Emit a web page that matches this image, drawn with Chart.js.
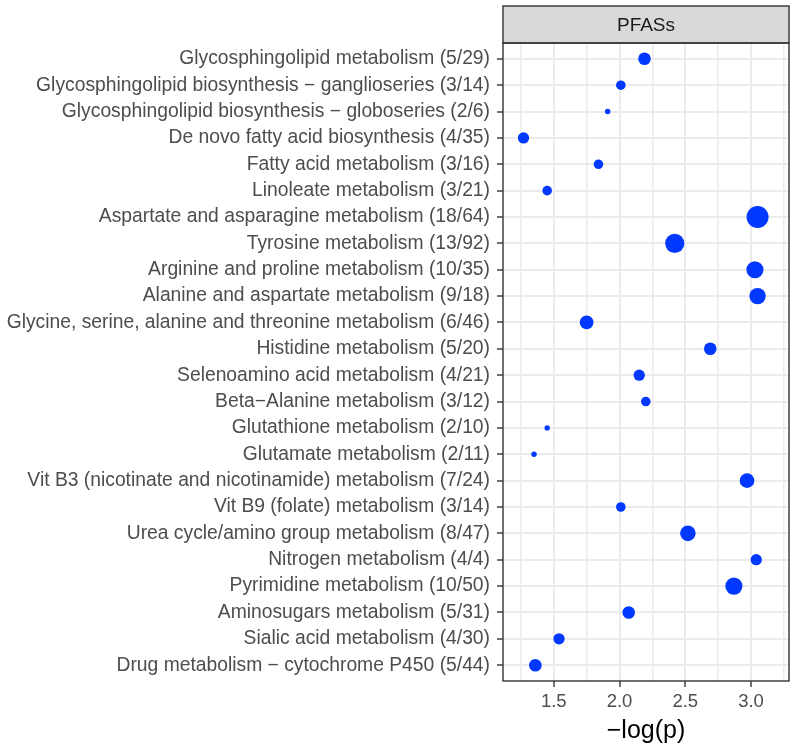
<!DOCTYPE html>
<html>
<head>
<meta charset="utf-8">
<script src="https://cdn.jsdelivr.net/npm/chart.js@4/dist/chart.umd.min.js"></script>
<style>
  html, body { margin: 0; padding: 0; background: #fff; }
  #wrap { width: 800px; height: 750px; }
</style>
</head>
<body>
<div id="wrap"><canvas id="dotChart" width="800" height="750"></canvas></div>
<script>
// pathway names (top to bottom) with hits/total
const pathways = [
    "Glycosphingolipid metabolism (5/29)",
    "Glycosphingolipid biosynthesis \u2212 ganglioseries (3/14)",
    "Glycosphingolipid biosynthesis \u2212 globoseries (2/6)",
    "De novo fatty acid biosynthesis (4/35)",
    "Fatty acid metabolism (3/16)",
    "Linoleate metabolism (3/21)",
    "Aspartate and asparagine metabolism (18/64)",
    "Tyrosine metabolism (13/92)",
    "Arginine and proline metabolism (10/35)",
    "Alanine and aspartate metabolism (9/18)",
    "Glycine, serine, alanine and threonine metabolism (6/46)",
    "Histidine metabolism (5/20)",
    "Selenoamino acid metabolism (4/21)",
    "Beta\u2212Alanine metabolism (3/12)",
    "Glutathione metabolism (2/10)",
    "Glutamate metabolism (2/11)",
    "Vit B3 (nicotinate and nicotinamide) metabolism (7/24)",
    "Vit B9 (folate) metabolism (3/14)",
    "Urea cycle/amino group metabolism (8/47)",
    "Nitrogen metabolism (4/4)",
    "Pyrimidine metabolism (10/50)",
    "Aminosugars metabolism (5/31)",
    "Sialic acid metabolism (4/30)",
    "Drug metabolism \u2212 cytochrome P450 (5/44)"
];

// -log(p) per pathway
const negLogP = [2.19, 2.01, 1.91, 1.27, 1.84, 1.45, 3.05, 2.42, 3.03, 3.05, 1.75, 2.69,
                 2.15, 2.20, 1.45, 1.35, 2.97, 2.01, 2.52, 3.04, 2.87, 2.07, 1.54, 1.36];

// hits (point size)
const hits = [5, 3, 2, 4, 3, 3, 18, 13, 10, 9, 6, 5, 4, 3, 2, 2, 7, 3, 8, 4, 10, 5, 4, 5];

const xTicks = [1.25, 1.5, 1.75, 2.0, 2.25, 2.5, 2.75, 3.0, 3.25];
const xTickLabels = ["", "1.5", "", "2.0", "", "2.5", "", "3.0", ""];
const facetLabel = "PFASs";

// area-style size scale, like ggplot scale_size
const minHits = Math.min(...hits), maxHits = Math.max(...hits);
const rMin = 2.7, rMax = 11;
function hitRadius(h) {
    return rMin + (rMax - rMin) * Math.sqrt((h - minHits) / (maxHits - minHits));
}

const points = negLogP.map((v, i) => ({ x: v, y: i + 1 }));
const radii = hits.map(hitRadius);

// strip on top + panel border
const panelDecor = {
    id: "panelDecor",
    afterDraw(chart) {
        const { ctx, chartArea: a } = chart;
        ctx.save();
        ctx.fillStyle = "#d9d9d9";
        ctx.fillRect(a.left, 6, a.right - a.left, a.top - 6);
        ctx.strokeStyle = "#333333";
        ctx.lineWidth = 1.4;
        ctx.strokeRect(a.left, 6, a.right - a.left, a.top - 6);
        ctx.strokeRect(a.left, a.top, a.right - a.left, a.bottom - a.top);
        ctx.fillStyle = "#1a1a1a";
        ctx.font = "19px 'Liberation Sans', Arial, sans-serif";
        ctx.textAlign = "center";
        ctx.textBaseline = "middle";
        ctx.fillText(facetLabel, (a.left + a.right) / 2, (6 + a.top) / 2 + 1);
        ctx.restore();
    }
};

const ctx = document.getElementById("dotChart").getContext("2d");
new Chart(ctx, {
    type: "scatter",
    data: {
        datasets: [{
            data: points,
            pointRadius: radii,
            pointHoverRadius: radii,
            pointBackgroundColor: "#0038ff",
            pointBorderWidth: 0
        }]
    },
    options: {
        responsive: false,
        animation: false,
        layout: { padding: { top: 43, right: 8, bottom: 0, left: 0 } },
        plugins: { legend: { display: false }, tooltip: { enabled: false } },
        scales: {
            x: {
                type: "linear",
                min: 1.114,
                max: 3.289,
                afterBuildTicks: (s) => { s.ticks = xTicks.map(v => ({ value: v })); },
                afterFit: (s) => { s.height = 69; },
                border: { display: false },
                grid: {
                    color: "#ebebeb",
                    lineWidth: (c) => (xTickLabels[c.index] ? 2 : 1.5),
                    tickLength: 6,
                    tickColor: (c) => (xTickLabels[c.index] ? "#333333" : "rgba(0,0,0,0)"),
                    tickWidth: 1.4
                },
                ticks: {
                    padding: 4,
                    color: "#4d4d4d",
                    font: { family: "'Liberation Sans', Arial, sans-serif", size: 18.5 },
                    callback: (v, i) => xTickLabels[i]
                },
                title: {
                    display: true,
                    text: "\u2212log(p)",
                    color: "#000000",
                    font: { family: "'Liberation Sans', Arial, sans-serif", size: 25 },
                    padding: { top: 0, bottom: 4 }
                }
            },
            y: {
                type: "linear",
                reverse: true,
                min: 0.4,
                max: 24.6,
                afterBuildTicks: (s) => { s.ticks = pathways.map((p, i) => ({ value: i + 1 })); },
                afterFit: (s) => { s.width = 503; },
                border: { display: false },
                grid: {
                    color: "#ebebeb",
                    lineWidth: 2,
                    tickLength: 6,
                    tickColor: "#333333",
                    tickWidth: 1.4
                },
                ticks: {
                    padding: 7,
                    autoSkip: false,
                    color: "#4d4d4d",
                    font: { family: "'Liberation Sans', Arial, sans-serif", size: 19.3 },
                    callback: (v) => pathways[Math.round(v) - 1]
                }
            }
        }
    },
    plugins: [panelDecor]
});
</script>
</body>
</html>
